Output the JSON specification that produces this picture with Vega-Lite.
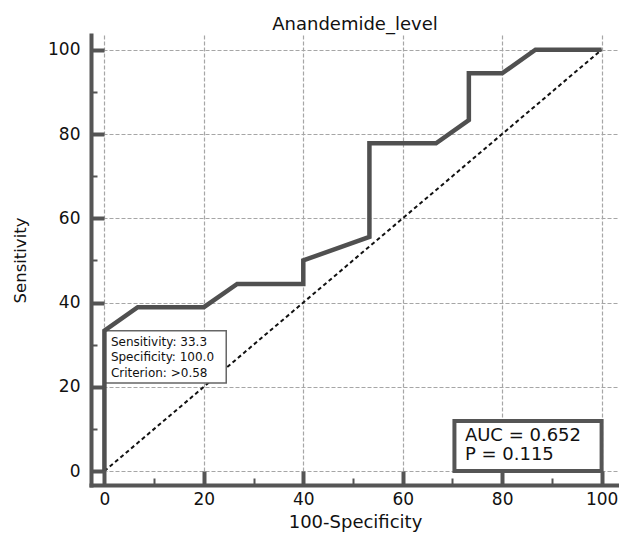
{
  "$schema": "https://vega.github.io/schema/vega-lite/v6.json",
  "width": 528,
  "height": 450,
  "autosize": "none",
  "padding": {"left": 91, "top": 35, "right": 0, "bottom": 48},
  "background": "white",
  "config": {"view": {"stroke": null}},
  "title": {"text": "Anandemide_level", "font": "DejaVu Sans", "fontSize": 18, "fontWeight": "normal", "color": "#111", "anchor": "middle", "frame": "group", "offset": -13, "baseline": "alphabetic"},
  "datasets": {
    "diag": [{"x": 0, "y": 0}, {"x": 100, "y": 100}],
    "roc": [
      {"i": 0, "x": 0, "y": 0},
      {"i": 1, "x": 0, "y": 33.3},
      {"i": 2, "x": 6.7, "y": 38.9},
      {"i": 3, "x": 20, "y": 38.9},
      {"i": 4, "x": 26.7, "y": 44.4},
      {"i": 5, "x": 40, "y": 44.4},
      {"i": 6, "x": 40, "y": 50},
      {"i": 7, "x": 53.3, "y": 55.6},
      {"i": 8, "x": 53.3, "y": 77.8},
      {"i": 9, "x": 66.7, "y": 77.8},
      {"i": 10, "x": 73.3, "y": 83.3},
      {"i": 11, "x": 73.3, "y": 94.4},
      {"i": 12, "x": 80, "y": 94.4},
      {"i": 13, "x": 86.7, "y": 100},
      {"i": 14, "x": 100, "y": 100}
    ],
    "box1": [{"x": 0, "x2": 24.5, "y": 20.9, "y2": 33.3}],
    "box2": [{"x": 70.4, "x2": 100, "y": 0, "y2": 11.9}],
    "text1": [
      {"x": 1.3, "y": 29.8, "t": "Sensitivity: 33.3"},
      {"x": 1.3, "y": 26.1, "t": "Specificity: 100.0"},
      {"x": 1.3, "y": 22.4, "t": "Criterion: >0.58"}
    ],
    "text2": [
      {"x": 72.5, "y": 7.2, "t": "AUC = 0.652"},
      {"x": 72.5, "y": 2.64, "t": "P = 0.115"}
    ]
  },
  "layer": [
    {
      "data": {"name": "diag"},
      "mark": {"type": "line", "color": "#111", "strokeWidth": 2, "strokeDash": [4, 3]},
      "encoding": {
        "x": {
          "field": "x", "type": "quantitative",
          "scale": {"domain": [-2.7, 103.5], "nice": false, "zero": false},
          "axis": {
            "title": "100-Specificity",
            "values": [0, 5, 10, 15, 20, 25, 30, 35, 40, 45, 50, 55, 60, 65, 70, 75, 80, 85, 90, 95, 100],
            "labelExpr": "datum.value % 20 === 0 ? datum.label : ''",
            "domainColor": "#555", "domainWidth": 4, "domainCap": "square",
            "tickColor": "#555",
            "tickSize": {"condition": {"test": "datum.value % 20 === 0", "value": -14}, "value": -7},
            "tickWidth": {"condition": {"test": "datum.value % 20 === 0", "value": 4}, "value": 2},
            "labelPadding": 20,
            "labelFont": "DejaVu Sans", "labelFontSize": 17, "labelColor": "#111",
            "labelOverlap": false, "labelFlush": false,
            "grid": true, "gridColor": "#a6a6a6", "gridDash": [4, 2], "gridWidth": 1.2,
            "gridOpacity": {"condition": {"test": "datum.value % 20 === 0", "value": 1}, "value": 0},
            "titleFont": "DejaVu Sans", "titleFontSize": 18, "titleFontWeight": "normal", "titleColor": "#111",
            "titlePadding": -1
          }
        },
        "y": {
          "field": "y", "type": "quantitative",
          "scale": {"domain": [-3.3, 103.5], "nice": false, "zero": false},
          "axis": {
            "title": "Sensitivity",
            "values": [0, 5, 10, 15, 20, 25, 30, 35, 40, 45, 50, 55, 60, 65, 70, 75, 80, 85, 90, 95, 100],
            "labelExpr": "datum.value % 20 === 0 ? datum.label : ''",
            "domainColor": "#555", "domainWidth": 4, "domainCap": "square",
            "tickColor": "#555",
            "tickSize": {"condition": {"test": "datum.value % 20 === 0", "value": -13}, "value": -6},
            "tickWidth": {"condition": {"test": "datum.value % 20 === 0", "value": 4}, "value": 2},
            "labelPadding": 24,
            "labelFont": "DejaVu Sans", "labelFontSize": 17, "labelColor": "#111",
            "labelOverlap": false, "labelFlush": false,
            "grid": true, "gridColor": "#a6a6a6", "gridDash": [4, 2], "gridWidth": 1.2,
            "gridOpacity": {"condition": {"test": "datum.value % 20 === 0", "value": 1}, "value": 0},
            "titleFont": "DejaVu Sans", "titleFontSize": 16.5, "titleFontWeight": "normal", "titleColor": "#111",
            "titlePadding": 19
          }
        }
      }
    },
    {
      "data": {"name": "box1"},
      "mark": {"type": "rect", "fill": "white", "stroke": "#666", "strokeWidth": 1.5},
      "encoding": {
        "x": {"field": "x", "type": "quantitative"},
        "x2": {"field": "x2"},
        "y": {"field": "y", "type": "quantitative"},
        "y2": {"field": "y2"}
      }
    },
    {
      "data": {"name": "roc"},
      "mark": {"type": "line", "color": "#505050", "strokeWidth": 4.5},
      "encoding": {
        "x": {"field": "x", "type": "quantitative"},
        "y": {"field": "y", "type": "quantitative"},
        "order": {"field": "i", "type": "quantitative"}
      }
    },
    {
      "data": {"name": "box2"},
      "mark": {"type": "rect", "fill": "white", "stroke": "#555", "strokeWidth": 4},
      "encoding": {
        "x": {"field": "x", "type": "quantitative"},
        "x2": {"field": "x2"},
        "y": {"field": "y", "type": "quantitative"},
        "y2": {"field": "y2"}
      }
    },
    {
      "data": {"name": "text1"},
      "mark": {"type": "text", "align": "left", "baseline": "alphabetic", "font": "DejaVu Sans", "fontSize": 12, "color": "#111"},
      "encoding": {
        "x": {"field": "x", "type": "quantitative"},
        "y": {"field": "y", "type": "quantitative"},
        "text": {"field": "t"}
      }
    },
    {
      "data": {"name": "text2"},
      "mark": {"type": "text", "align": "left", "baseline": "alphabetic", "font": "DejaVu Sans", "fontSize": 18, "color": "#111"},
      "encoding": {
        "x": {"field": "x", "type": "quantitative"},
        "y": {"field": "y", "type": "quantitative"},
        "text": {"field": "t"}
      }
    }
  ]
}
